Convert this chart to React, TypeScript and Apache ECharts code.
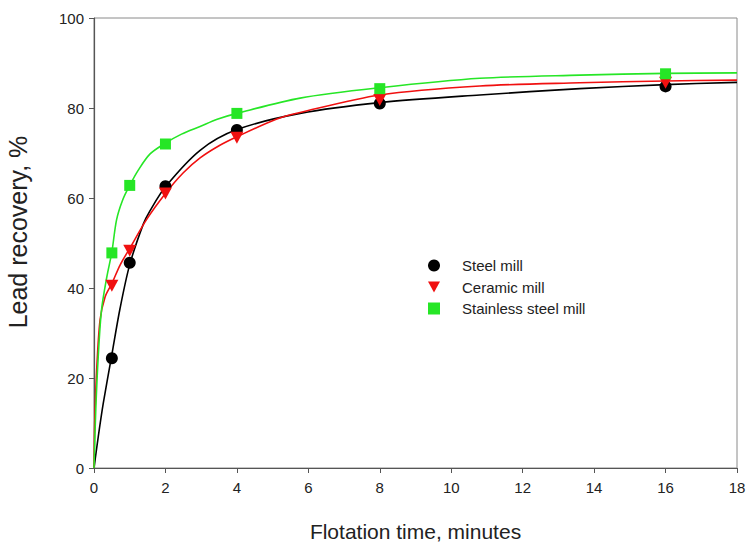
import React, { useEffect, useRef } from "react";
import * as echarts from "echarts";

// Measured recovery (%) at each flotation time (minutes)
const times = [0.5, 1, 2, 4, 8, 16];
const steelMill = [24.4, 45.6, 62.6, 75.1, 81.0, 84.8];
const ceramicMill = [40.5, 48.3, 61.0, 73.4, 81.8, 85.6];
const stainlessMill = [47.8, 62.8, 72.0, 78.8, 84.3, 87.6];

// Fitted kinetic curves, [time, recovery]
const steelFit: [number, number][] = [
  [0, 0], [0.12, 7], [0.26, 14.4], [0.5, 25.2], [0.73, 35.5], [1, 45.2],
  [1.38, 54.2], [1.57, 57.2], [2, 62.5], [2.97, 70.6], [4, 75.2],
  [5.77, 78.8], [8, 81.2], [10.8, 82.9], [13.6, 84.3], [16, 85.2], [18, 85.7],
];
const ceramicFit: [number, number][] = [
  [0, 0], [0.02, 10], [0.075, 21.8], [0.17, 32.9], [0.31, 38], [0.5, 41],
  [0.73, 45.1], [1, 48.8], [1.47, 55.2], [2, 61.0], [2.5, 65.6], [2.97, 68.9],
  [3.5, 71.6], [4, 73.6], [5.1, 77.5], [5.77, 79.0], [8, 82.9], [10.8, 84.9],
  [13.6, 85.6], [16, 86.0], [18, 86.2],
];
const stainlessFit: [number, number][] = [
  [0, 0], [0.05, 13], [0.12, 25], [0.21, 35.1], [0.36, 42.5], [0.5, 48],
  [0.63, 55.1], [0.8, 59.5], [1, 62.8], [1.24, 66.2], [1.57, 69.8], [2, 72.2],
  [2.45, 74.2], [2.97, 75.9], [3.45, 77.5], [4, 78.8], [5.77, 82.2], [8, 84.5],
  [10.8, 86.6], [13.6, 87.3], [16, 87.7], [18, 87.8],
];

const xTicks = { min: 0, max: 18, interval: 2 };
const yTicks = { min: 0, max: 100, interval: 20 };

const BLACK = "#000000";
const RED = "#f01010";
const GREEN = "#26e626";
const FONT = "'Liberation Sans', Arial, Helvetica, sans-serif";
const DOWN_TRIANGLE = "path://M0,0L12,0L6,11Z";

function pairs(values: number[]) {
  return times.map((t, i) => [t, values[i]]);
}

export default function App() {
  const ref = useRef<HTMLDivElement>(null);

  useEffect(() => {
    if (!ref.current) return;
    const chart = echarts.init(ref.current, undefined, { renderer: "svg" });

    const curve = (name: string, data: [number, number][], color: string) => ({
      name,
      type: "line",
      data,
      smooth: 0.3,
      showSymbol: false,
      symbol: "none",
      lineStyle: { color, width: 1.6 },
      z: 2,
      silent: true,
    });

    const markers = (name: string, values: number[], symbol: string, size: number | number[], color: string) => ({
      name,
      type: "scatter",
      data: pairs(values),
      symbol,
      symbolSize: size,
      itemStyle: { color, opacity: 1 },
      z: 3,
    });

    chart.setOption({
      animation: false,
      backgroundColor: "#ffffff",
      grid: {
        left: 94,
        right: 14,
        top: 18,
        bottom: 80,
        outerBoundsMode: "none",
        containLabel: false,
        show: true,
        borderColor: "#8a8a8a",
        borderWidth: 1,
        backgroundColor: "transparent",
      },
      legend: {
        orient: "vertical",
        left: 423,
        top: 253,
        itemWidth: 12,
        itemHeight: 12,
        itemGap: 6.5,
        data: ["Steel mill", "Ceramic mill", "Stainless steel mill"],
        textStyle: {
          fontFamily: FONT,
          fontSize: 15,
          color: "#222",
          padding: [0, 0, 0, 17],
        },
      },
      xAxis: {
        type: "value",
        ...xTicks,
        name: "Flotation time, minutes",
        nameLocation: "middle",
        nameGap: 53,
        nameTextStyle: { fontFamily: FONT, fontSize: 21, color: "#222" },
        axisLine: { show: true, lineStyle: { color: "#555", width: 1.2 } },
        axisTick: { show: true, inside: false, length: 5, lineStyle: { color: "#555" } },
        axisLabel: { fontFamily: FONT, fontSize: 15, color: "#222", margin: 12 },
        splitLine: { show: false },
      },
      yAxis: {
        type: "value",
        ...yTicks,
        name: "Lead recovery, %",
        nameLocation: "middle",
        nameGap: 64,
        nameRotate: 90,
        nameTextStyle: {
          fontFamily: FONT,
          fontSize: 25,
          color: "#222",
          padding: [0, 0, 0, 22],
        },
        axisLine: { show: true, lineStyle: { color: "#555", width: 1.2 } },
        axisTick: { show: true, inside: false, length: 5, lineStyle: { color: "#555" } },
        axisLabel: { fontFamily: FONT, fontSize: 15, color: "#222", margin: 10 },
        splitLine: { show: false },
      },
      series: [
        curve("Steel mill fit", steelFit, BLACK),
        curve("Ceramic mill fit", ceramicFit, RED),
        curve("Stainless steel mill fit", stainlessFit, GREEN),
        markers("Steel mill", steelMill, "circle", 12, BLACK),
        markers("Ceramic mill", ceramicMill, DOWN_TRIANGLE, [13, 12], RED),
        markers("Stainless steel mill", stainlessMill, "rect", 11, GREEN),
      ],
    });

    return () => chart.dispose();
  }, []);

  return (
    <div
      ref={ref}
      style={{ position: "fixed", left: 0, top: 0, width: 751, height: 548, background: "#fff" }}
    />
  );
}
